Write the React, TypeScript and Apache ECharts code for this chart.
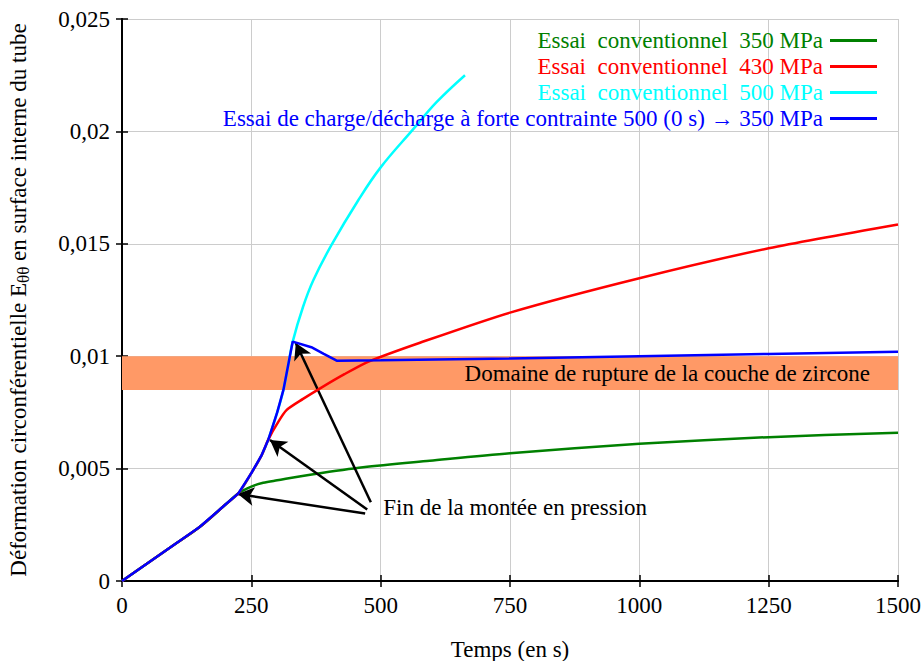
import React, { useEffect, useRef } from "react";
import * as echarts from "echarts";

const FONT = "Liberation Serif";
const FS = 23;

const xTicks = [0, 250, 500, 750, 1000, 1250, 1500];

const names = [
  "Essai  conventionnel  350 MPa",
  "Essai  conventionnel  430 MPa",
  "Essai  conventionnel  500 MPa",
  "Essai de charge/décharge à forte contrainte 500 (0 s) → 350 MPa",
];
const colors = ["#008000", "#FF0000", "#00FFFF", "#0000FF"];

// common loading ramp (shared by all tests)
const rampT = [0, 50, 100, 150, 200, 225];
const rampE = [0, 0.0008, 0.0016, 0.0024, 0.0034, 0.0039];

const greenT = [225, 250, 273, 300, 370, 466, 595, 750, 1000, 1250, 1500];
const greenE = [0.0039, 0.0042, 0.00437, 0.00448, 0.00475, 0.00506, 0.00535, 0.00568, 0.0061, 0.0064, 0.0066];

const redT = [225, 250, 270, 283, 300, 318, 350, 383, 430, 479, 576, 750, 1000, 1250, 1500];
const redE = [0.0039, 0.0048, 0.0056, 0.0063, 0.007, 0.0076, 0.0081, 0.00857, 0.0092, 0.00978, 0.0106, 0.01194, 0.01347, 0.0148, 0.01586];

const cyanT = [225, 250, 270, 283, 300, 312, 322, 330, 350, 370, 405, 457, 500, 563, 608, 663];
const cyanE = [0.0039, 0.0048, 0.0056, 0.0063, 0.0075, 0.0085, 0.0097, 0.01065, 0.0122, 0.01339, 0.01495, 0.01695, 0.0184, 0.0201, 0.0213, 0.0225];

const blueT = [225, 250, 270, 283, 300, 312, 322, 330, 366, 390, 415, 500, 750, 1000, 1250, 1500];
const blueE = [0.0039, 0.0048, 0.0056, 0.0063, 0.0075, 0.0085, 0.0097, 0.01065, 0.0104, 0.0101, 0.0098, 0.00982, 0.0099, 0.01, 0.0101, 0.0102];

const bandRange = [0.0085, 0.01];
const bandText = "Domaine de rupture de la couche de zircone";
const bandTextAt = [1054, 0.00925];

const noteText = "Fin de la montée en pression";
const noteAt = [505, 0.00325];
// arrows: [tail, head]
const arrows = [
  [[470, 0.003], [224, 0.00387]],
  [[474, 0.00318], [286, 0.00627]],
  [[481, 0.0035], [336, 0.01059]],
];

function pairs(t: number[], e: number[]) {
  return t.map((v, i) => [v, e[i]]);
}

export default function App() {
  const ref = useRef<HTMLDivElement>(null);
  useEffect(() => {
    document.body.style.margin = "0";
    const chart = echarts.init(ref.current!, null, { renderer: "svg" });
    const ramp = pairs(rampT, rampE);
    const smooths = [0.3, 0.25, 0.4, 0];
    const lineSeries = [
      pairs(greenT, greenE),
      pairs(redT, redE),
      pairs(cyanT, cyanE),
      pairs(blueT, blueE),
    ].map((d, i) => ({
      type: "line",
      name: names[i],
      data: ramp.slice(0, -1).concat(d),
      showSymbol: false,
      symbol: "none",
      smooth: smooths[i] || false,
      lineStyle: { color: colors[i], width: 2.5 },
      itemStyle: { color: colors[i] },
      z: i === 2 ? 3 : 4 + i,
      silent: true,
    }));
    const yFmt = (v: number) => String(+v.toFixed(3)).replace(".", ",");
    chart.setOption({
      animation: false,
      textStyle: { fontFamily: FONT },
      grid: { left: 122, right: 25, top: 19, bottom: 80, outerBoundsMode: "none", containLabel: false },
      legend: {
        orient: "vertical",
        align: "right",
        right: 41,
        top: 24,
        itemWidth: 47,
        itemHeight: 3,
        itemGap: 3,
        icon: "rect",
        selectedMode: false,
        textStyle: { fontFamily: FONT, fontSize: FS, padding: [0, 2, 0, 0] },
        data: names.map((n, i) => ({ name: n, textStyle: { color: colors[i] } })),
      },
      xAxis: [
        {
          type: "value",
          min: 0,
          max: 1500,
          interval: 250,
          name: "Temps (en s)",
          nameLocation: "middle",
          nameGap: 57,
          nameTextStyle: { fontFamily: FONT, fontSize: FS, color: "#000" },
          axisLine: { lineStyle: { color: "#000", width: 2 } },
          axisTick: { inside: true, length: 6, lineStyle: { color: "#000", width: 1.5 } },
          axisLabel: {
            fontFamily: FONT,
            fontSize: FS,
            color: "#000",
            margin: 13,
            formatter: (v: number) => (xTicks.includes(v) ? String(v) : ""),
          },
          splitLine: { lineStyle: { color: "#cccccc", width: 1 } },
        },
        {
          type: "value",
          position: "top",
          min: 0,
          max: 1500,
          interval: 250,
          axisLine: { show: true, lineStyle: { color: "#000", width: 2 } },
          axisTick: { show: true, inside: true, length: 6, lineStyle: { color: "#000", width: 1.5 } },
          axisLabel: { show: false },
          splitLine: { show: false },
        },
      ],
      yAxis: [
        {
          type: "value",
          min: 0,
          max: 0.025,
          interval: 0.005,
          name: "Déformation circonférentielle E{sub|θθ} en surface interne du tube",
          nameLocation: "middle",
          nameRotate: 90,
          nameGap: 90,
          nameTextStyle: {
            fontFamily: FONT,
            fontSize: FS,
            color: "#000",
            rich: {
              sub: { fontFamily: FONT, fontSize: 17, color: "#000", verticalAlign: "bottom", padding: [11, 0, 0, 0] },
            },
          },
          axisLine: { lineStyle: { color: "#000", width: 2 } },
          axisTick: { inside: true, length: 6, lineStyle: { color: "#000", width: 1.5 } },
          axisLabel: { fontFamily: FONT, fontSize: FS, color: "#000", margin: 12, formatter: yFmt },
          splitLine: { lineStyle: { color: "#cccccc", width: 1 } },
        },
        {
          type: "value",
          position: "right",
          min: 0,
          max: 0.025,
          interval: 0.005,
          axisLine: { show: true, lineStyle: { color: "#000", width: 2 } },
          axisTick: { show: true, inside: true, length: 6, lineStyle: { color: "#000", width: 1.5 } },
          axisLabel: { show: false },
          splitLine: { show: false },
        },
      ],
      series: [
        {
          type: "line",
          name: "band",
          data: [],
          z: 1,
          silent: true,
          markArea: {
            silent: true,
            itemStyle: { color: "#FF9966", opacity: 1 },
            label: { show: false },
            data: [[{ yAxis: bandRange[0] }, { yAxis: bandRange[1] }]],
          },
          markPoint: {
            silent: true,
            symbol: "circle",
            symbolSize: 0,
            label: {
              show: true,
              position: "inside",
              fontFamily: FONT,
              fontSize: FS,
              color: "#000",
              formatter: bandText,
            },
            data: [{ coord: bandTextAt }],
          },
        },
        ...lineSeries,
        {
          type: "line",
          name: "notes",
          data: [],
          z: 10,
          silent: true,
          markLine: {
            silent: true,
            symbol: ["none", "arrow"],
            symbolSize: [14, 16],
            lineStyle: { color: "#000", width: 2.5, type: "solid" },
            label: { show: false },
            data: arrows.map(([a, b]) => [{ coord: a }, { coord: b }]),
          },
          markPoint: {
            silent: true,
            symbol: "circle",
            symbolSize: 0,
            label: {
              show: true,
              position: "right",
              distance: 0,
              fontFamily: FONT,
              fontSize: FS,
              color: "#000",
              formatter: noteText,
            },
            data: [{ coord: noteAt }],
          },
        },
      ],
    });
    return () => chart.dispose();
  }, []);
  return <div ref={ref} style={{ width: 923, height: 661 }} />;
}
